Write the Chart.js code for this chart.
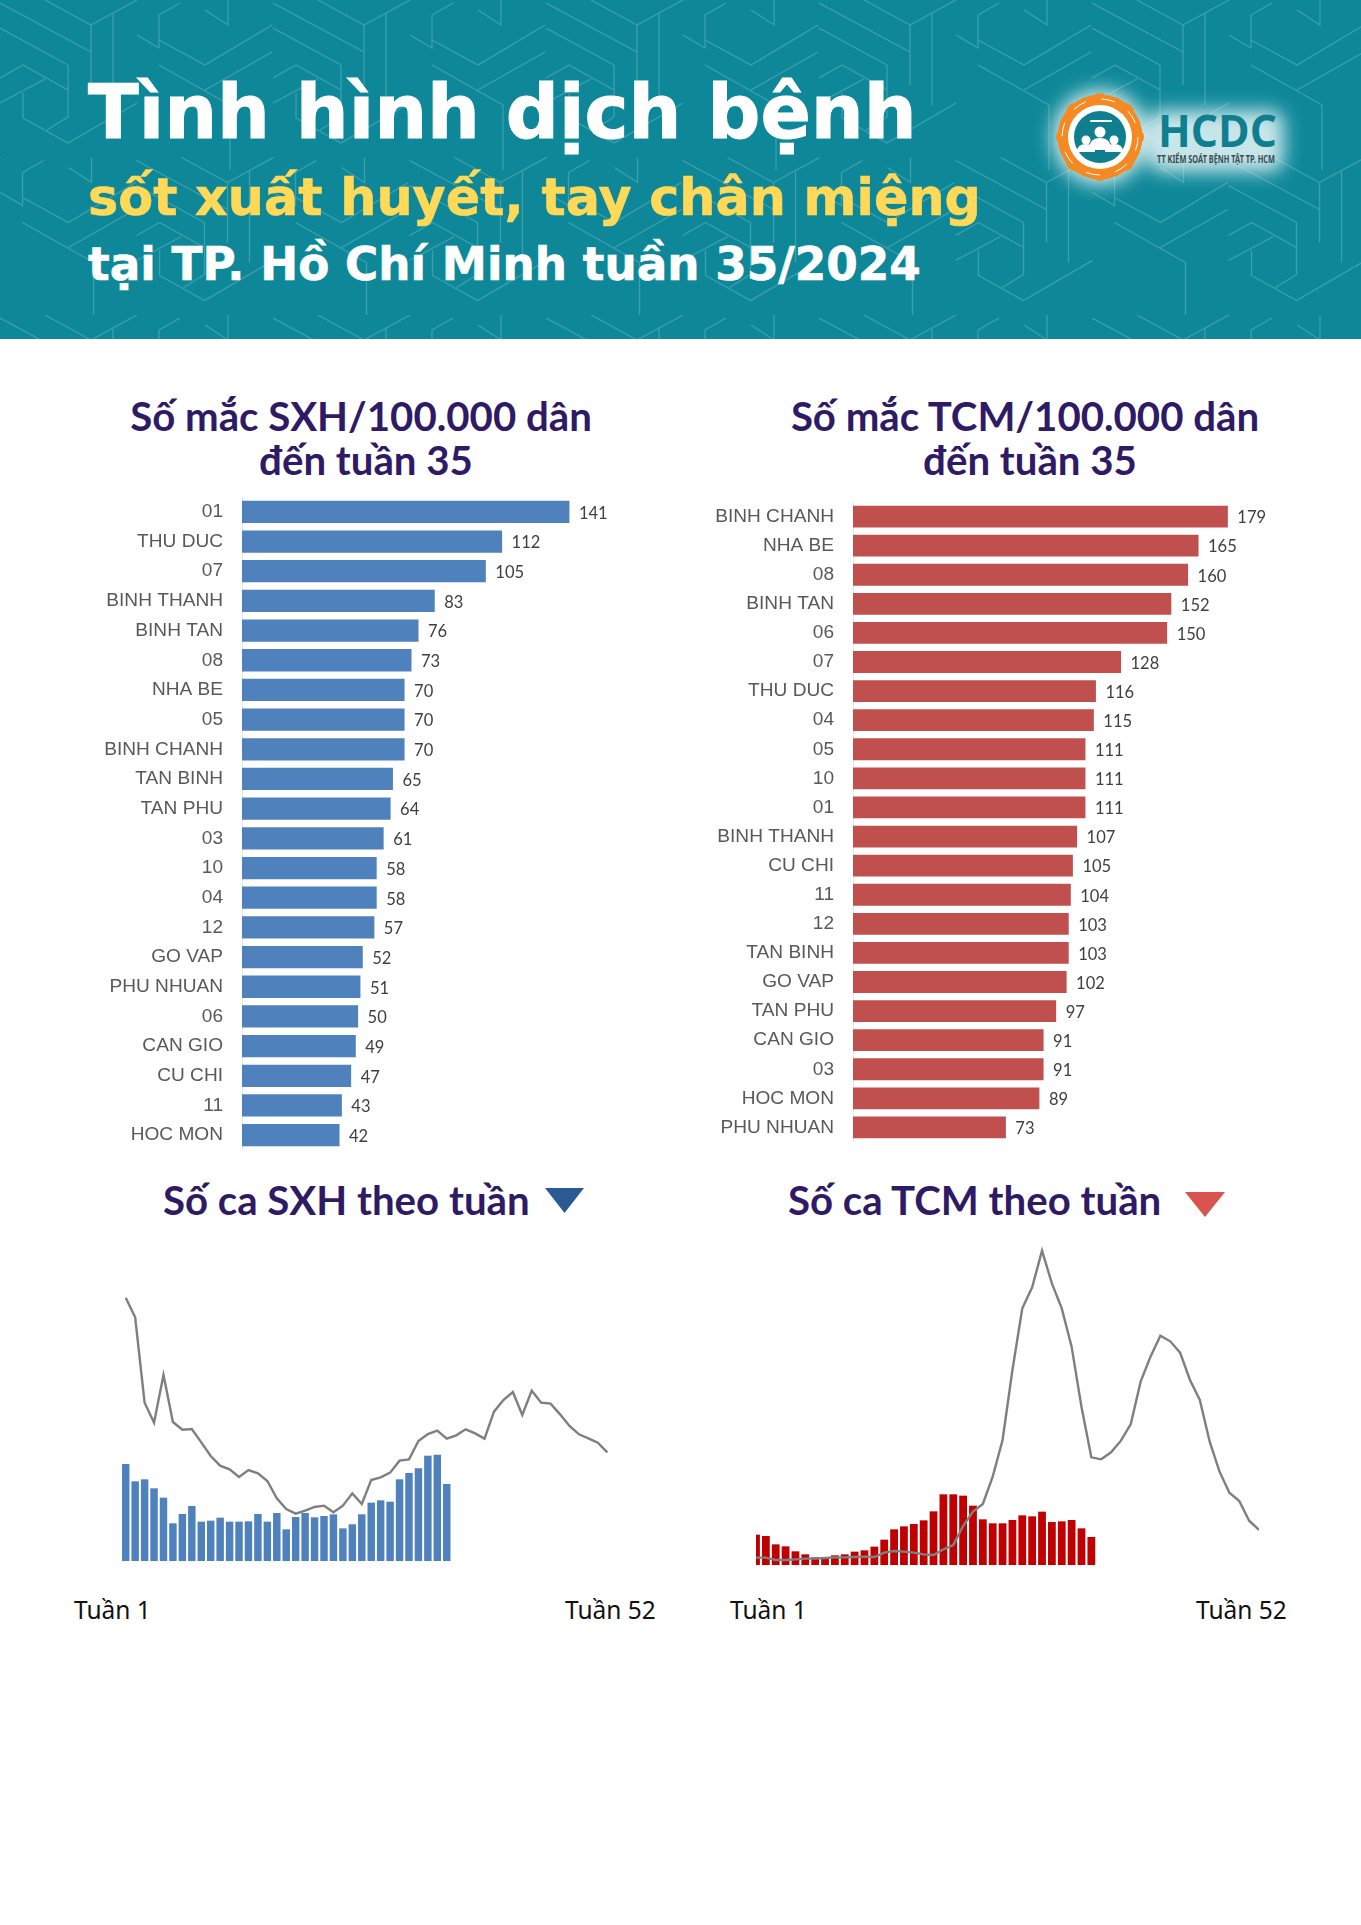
<!DOCTYPE html>
<html lang="vi">
<head>
<meta charset="utf-8">
<title>Tình hình dịch bệnh tuần 35/2024</title>
<script src="https://cdn.jsdelivr.net/npm/chart.js@4"></script>
<style>
  html, body { margin: 0; padding: 0; background: #fff; }
  #page { position: relative; width: 1361px; height: 1925px; overflow: hidden; background: #fff; }
  #banner { position: absolute; left: 0; top: 0; width: 1361px; height: 339px; background: #0e8899; overflow: hidden; }
  #banner svg.pattern { position: absolute; left: 0; top: 0; }
  .headline { position: absolute; left: 88px; margin: 0; white-space: nowrap; font-family: "DejaVu Sans", Inter, sans-serif; font-weight: 700; }
  #h1 { top: 69px; font-size: 74.3px; line-height: 88px; color: #fff; -webkit-text-stroke: 1px #fff; }
  #h2 { top: 163px; font-size: 50.8px; line-height: 70px; color: #ffd957; -webkit-text-stroke: 0.6px #ffd957; }
  #h3 { top: 235px; font-size: 45.3px; line-height: 60px; color: #fff; -webkit-text-stroke: 0.6px #fff; }
  .title { position: absolute; margin: 0; text-align: center; white-space: nowrap; font-family: Lato, sans-serif; font-weight: 700; color: #2f1a66; font-size: 40.2px; line-height: 44px; }
  .title span { position: relative; left: 5px; }
  .week { position: absolute; font-family: "Noto Sans", sans-serif; font-size: 24.5px; line-height: 30px; color: #111; white-space: nowrap; }
  canvas { position: absolute; display: block; }
  .tri { position: absolute; }
</style>
</head>
<body>
<div id="page">
  <div id="banner">
    <svg class="pattern" width="1361" height="339">
      <defs>
        <g id="cell" fill="none" stroke="#3d9fae" stroke-width="1.2">
          <polyline points="45,0 91,25 91,85"/>
          <polyline points="91,25 137,0"/>
          <polyline points="113,13 113,105"/>
          <polyline points="0,3 91,52"/>
          <polyline points="0,28 68,65 68,117 47,130"/>
          <polyline points="23,65 68,90"/>
          <polyline points="23,65 0,78"/>
          <polyline points="0,103 45,79"/>
          <polyline points="23,93 23,118 68,143 137,103"/>
          <polyline points="137,35 159,48 159,15 180,3"/>
          <polyline points="159,40 205,65 272,25"/>
          <polyline points="159,65 230,105 230,170"/>
          <polyline points="205,90 272,52"/>
          <polyline points="205,10 228,25 228,0"/>
        </g>
        <pattern id="hexTile" width="273" height="315" patternUnits="userSpaceOnUse">
          <use href="#cell"/>
          <use href="#cell" transform="translate(136.5 157.5)"/>
          <use href="#cell" transform="translate(-136.5 157.5)"/>
        </pattern>
      </defs>
      <rect width="1361" height="339" fill="url(#hexTile)"/>
    </svg>
    <p class="headline" id="h1">Tình hình dịch bệnh</p>
    <p class="headline" id="h2">sốt xuất huyết, tay chân miệng</p>
    <p class="headline" id="h3">tại TP. Hồ Chí Minh tuần 35/2024</p>
    <!-- logo -->
    <svg style="position:absolute;left:1030px;top:70px" width="290" height="130" viewBox="0 0 290 130">
      <defs>
        <filter id="glow" x="-30%" y="-30%" width="160%" height="160%"><feGaussianBlur stdDeviation="9"/></filter>
      </defs>
      <g filter="url(#glow)" fill="#e8f7f8" opacity="0.85">
        <circle cx="70" cy="67" r="48"/>
        <rect x="118" y="40" width="136" height="62" rx="14"/>
      </g>
      <g fill="#f58a25">
        <circle cx="70" cy="32" r="9"/><circle cx="95" cy="42" r="9"/><circle cx="105" cy="67" r="9"/><circle cx="95" cy="92" r="9"/>
        <circle cx="70" cy="102" r="9"/><circle cx="45" cy="92" r="9"/><circle cx="35" cy="67" r="9"/><circle cx="45" cy="42" r="9"/>
      </g>
      <circle cx="70" cy="67" r="37" fill="none" stroke="#f58a25" stroke-width="11"/>
      <circle cx="70" cy="67" r="38" fill="none" stroke="#fff" stroke-width="1" stroke-dasharray="14 16"/>
      <circle cx="70" cy="67" r="32" fill="#fff"/>
      <circle cx="70" cy="67" r="26" fill="#0f7f90"/>
      <g fill="#fff">
        <rect x="60" y="50" width="22" height="2" rx="1"/>
        <circle cx="70" cy="62" r="5.5"/><path d="M59 80 q0 -12 11 -12 q11 0 11 12 z"/>
        <circle cx="56" cy="70" r="4.5"/><path d="M47 82 q0 -8 9 -8 q9 0 9 8 z"/>
        <circle cx="84" cy="70" r="4.5"/><path d="M75 82 q0 -8 9 -8 q9 0 9 8 z"/>
      </g>
      <text x="128" y="77" font-family="'Open Sans', sans-serif" font-weight="700" font-size="44" fill="#0f7f90" textLength="119" lengthAdjust="spacingAndGlyphs">HCDC</text>
      <text x="127" y="93" font-family="'Noto Sans', sans-serif" font-weight="700" font-size="10.5" fill="#3c4a4f" textLength="118" lengthAdjust="spacingAndGlyphs">TT KIỂM SOÁT BỆNH TẬT TP. HCM</text>
    </svg>
  </div>

  <p class="title" style="left:61px;width:600px;top:394px">Số mắc SXH/100.000 dân<br><span>đến tuần 35</span></p>
  <p class="title" style="left:725px;width:600px;top:394px">Số mắc TCM/100.000 dân<br><span>đến tuần 35</span></p>

  <canvas id="rate_sxh" width="590" height="653" style="left:70px;top:497px"></canvas>
  <canvas id="rate_tcm" width="620" height="640" style="left:700px;top:502px"></canvas>

  <p class="title" style="left:163px;top:1178px">Số ca SXH theo tuần</p>
  <svg class="tri" style="left:545px;top:1188px" width="39" height="25"><polygon points="0,0 39,0 19.5,25" fill="#2a5a94"/></svg>
  <p class="title" style="left:788px;top:1178px">Số ca TCM theo tuần</p>
  <svg class="tri" style="left:1185px;top:1192px" width="40" height="25"><polygon points="0,0 40,0 20,25" fill="#d9534f"/></svg>

  <canvas id="weekly_sxh" width="491" height="280" style="left:121px;top:1281px"></canvas>
  <canvas id="weekly_tcm" width="503" height="320" style="left:756px;top:1245px"></canvas>

  <div class="week" style="left:74px;top:1595px">Tuần 1</div>
  <div class="week" style="left:565px;top:1595px">Tuần 52</div>
  <div class="week" style="left:730px;top:1595px">Tuần 1</div>
  <div class="week" style="left:1196px;top:1595px">Tuần 52</div>
</div>

<script>
// Data

const sxh_districts = ["01", "THU DUC", "07", "BINH THANH", "BINH TAN", "08", "NHA BE", "05", "BINH CHANH", "TAN BINH", "TAN PHU", "03", "10", "04", "12", "GO VAP", "PHU NHUAN", "06", "CAN GIO", "CU CHI", "11", "HOC MON"];
const sxh_rates = [141, 112, 105, 83, 76, 73, 70, 70, 70, 65, 64, 61, 58, 58, 57, 52, 51, 50, 49, 47, 43, 42];

const tcm_districts = ["BINH CHANH", "NHA BE", "08", "BINH TAN", "06", "07", "THU DUC", "04", "05", "10", "01", "BINH THANH", "CU CHI", "11", "12", "TAN BINH", "GO VAP", "TAN PHU", "CAN GIO", "03", "HOC MON", "PHU NHUAN"];
const tcm_rates = [179, 165, 160, 152, 150, 128, 116, 115, 111, 111, 111, 107, 105, 104, 103, 103, 102, 97, 91, 91, 89, 73];

const week_labels = ["1", "2", "3", "4", "5", "6", "7", "8", "9", "10", "11", "12", "13", "14", "15", "16", "17", "18", "19", "20", "21", "22", "23", "24", "25", "26", "27", "28", "29", "30", "31", "32", "33", "34", "35", "36", "37", "38", "39", "40", "41", "42", "43", "44", "45", "46", "47", "48", "49", "50", "51", "52"];

const sxh_this_year = [291, 239, 245, 218, 190, 113, 141, 165, 118, 121, 130, 118, 118, 119, 141, 118, 144, 95, 132, 144, 131, 135, 140, 98, 110, 140, 175, 182, 178, 245, 264, 278, 316, 319, 231];
const sxh_last_year = [790, 731, 475, 415, 558, 417, 394, 396, 356, 315, 286, 275, 252, 273, 263, 240, 188, 156, 142, 151, 162, 166, 146, 166, 203, 171, 243, 251, 265, 301, 305, 360, 381, 391, 367, 377, 395, 383, 367, 448, 483, 507, 438, 511, 475, 472, 440, 405, 380, 368, 355, 326];

const tcm_this_year = [91, 87, 62, 56, 41, 32, 23, 23, 29, 32, 40, 44, 55, 76, 107, 116, 123, 134, 161, 212, 212, 208, 178, 137, 125, 125, 135, 149, 146, 160, 129, 131, 135, 110, 84];
const tcm_last_year = [22, 22, 15, 15, 17, 19, 19, 21, 23, 23, 24, 25, 24, 37, 42, 40, 37, 32, 30, 47, 60, 117, 160, 183, 265, 375, 585, 770, 833, 943, 845, 770, 655, 475, 323, 317, 338, 373, 423, 550, 625, 688, 671, 637, 555, 495, 370, 280, 217, 192, 133, 105];

// Value text at the end of each bar
const bar_values = {
  id: "bar_values",
  afterDatasetsDraw(chart) {
    const ctx = chart.ctx;
    const dataset = chart.data.datasets[0];
    ctx.save();
    ctx.font = "16.5px Lato, sans-serif";
    ctx.fillStyle = "#404040";
    ctx.textBaseline = "middle";
    chart.getDatasetMeta(0).data.forEach((bar, i) => {
      ctx.fillText(dataset.data[i], bar.x + 9.5, bar.y + 1.5);
    });
    ctx.restore();
  }
};

function rate_chart(canvas_id, labels, values, color, axis_width, x_max, label_gap) {
  new Chart(document.getElementById(canvas_id), {
    type: "bar",
    data: {
      labels: labels,
      datasets: [{ data: values, backgroundColor: color, barPercentage: 0.75, categoryPercentage: 1 }]
    },
    options: {
      indexAxis: "y",
      responsive: false,
      animation: false,
      layout: { padding: 0 },
      plugins: { legend: { display: false }, title: { display: false }, tooltip: { enabled: false } },
      scales: {
        x: { display: false, min: 0, max: x_max },
        y: {
          // the rows have to fill the canvas height, so no label padding here
          afterFit(scale) {
            scale.width = axis_width;
            scale.paddingTop = 0;
            scale.paddingBottom = 0;
          },
          grid: { display: false, drawTicks: false },
          border: { display: true, color: "#e6e6e6" },
          ticks: { autoSkip: false, padding: label_gap, color: "#595959", font: { family: "'Liberation Sans', Arial, sans-serif", size: 19.1 } }
        }
      }
    },
    plugins: [bar_values]
  });
}

function weekly_chart(canvas_id, this_year, last_year, color, y_max, edge_to_edge) {
  new Chart(document.getElementById(canvas_id), {
    type: "bar",
    data: {
      labels: week_labels,
      datasets: [
        { type: "line", data: last_year, borderColor: "#7f7f7f", borderWidth: 2.4, pointRadius: 0, tension: 0, order: 0 },
        { type: "bar", data: this_year, backgroundColor: color, barPercentage: 0.79, categoryPercentage: 1, order: 1 }
      ]
    },
    options: {
      responsive: false,
      animation: false,
      layout: { padding: 0 },
      plugins: { legend: { display: false }, title: { display: false }, tooltip: { enabled: false } },
      scales: {
        x: { display: false, offset: !edge_to_edge },
        y: { display: false, min: 0, max: y_max }
      }
    }
  });
}

rate_chart("rate_sxh", sxh_districts, sxh_rates, "#4f81bd", 172, 180, 19);
rate_chart("rate_tcm", tcm_districts, tcm_rates, "#c0504d", 153, 223, 19);
weekly_chart("weekly_sxh", sxh_this_year, sxh_last_year, "#4f81bd", 840, false);
weekly_chart("weekly_tcm", tcm_this_year, tcm_last_year, "#c00000", 960, true);
</script>
</body>
</html>
